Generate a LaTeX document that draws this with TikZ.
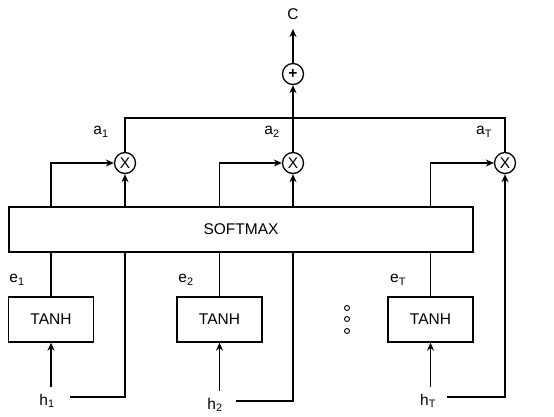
\documentclass[tikz,border=0pt]{standalone}
\usepackage{fontspec}
\setmainfont{Liberation Sans}
\usetikzlibrary{arrows.meta}
\begin{document}
\begin{tikzpicture}[x=1pt,y=-1pt,
  line width=1.3pt,
  every node/.style={font=\fontsize{15.5}{17}\selectfont, inner sep=0pt},
  boxnode/.style={draw, rectangle, minimum width=85pt, minimum height=45pt},
  opnode/.style={draw, circle, minimum size=21pt},
  dotnode/.style={draw, circle, line width=0.9pt, minimum size=5pt},
  arr/.style={-{Stealth[length=8pt,width=7pt]}}
]
\useasboundingbox (0,0) rectangle (554,416);
% boxes
\node[draw, rectangle, minimum width=464pt, minimum height=45pt] (soft) at (241,229.5) {SOFTMAX};
\node[boxnode] (t1) at (51,319.5) {TANH};
\node[boxnode] (t2) at (219.5,319.5) {TANH};
\node[boxnode] (tT) at (430.5,319.5) {TANH};
% operators
\node[opnode] (x1) at (125,163) {X};
\node[opnode] (x2) at (293,163) {X};
\node[opnode] (xT) at (505,163) {X};
\node[opnode] (plus) at (293,74) {\textbf{+}};
\node (C) at (293,14) {C};
% labels
\node (a1) at (101,132) {a\textsubscript{1}};
\node (a2) at (272,132) {a\textsubscript{2}};
\node (aT) at (484,132) {a\textsubscript{T}};
\node (e1) at (17,280) {e\textsubscript{1}};
\node (e2) at (186,280) {e\textsubscript{2}};
\node (eT) at (398,280) {e\textsubscript{T}};
\node (h1) at (47,401) {h\textsubscript{1}};
\node (h2) at (215,405) {h\textsubscript{2}};
\node (hT) at (428,401) {h\textsubscript{T}};
% dots
\node[dotnode] (d1) at (347,308) {};
\node[dotnode] (d2) at (347,319) {};
\node[dotnode] (d3) at (347,331) {};
% coordinates
\coordinate (h1r) at (70,397);
\coordinate (h2r) at (236,401);
\coordinate (hTr) at (447,397);
\coordinate (top) at (0,118);
% inputs to tanh
\draw[arr] (t1.south |- 0,387) -- (t1.south);
\draw[arr] (t2.south |- 0,391) -- (t2.south);
\draw[arr] (tT.south |- 0,387) -- (tT.south);
% tanh to softmax
\draw (t1.north) -- (t1.north |- soft.south);
\draw (t2.north) -- (t2.north |- soft.south);
\draw (tT.north) -- (tT.north |- soft.south);
% h to softmax
\draw (h1r) -| (x1.south |- soft.south);
\draw (h2r) -| (x2.south |- soft.south);
% softmax up to multipliers
\draw[arr] (t1.north |- soft.north) |- (x1.west);
\draw[arr] (t2.north |- soft.north) |- (x2.west);
\draw[arr] (tT.north |- soft.north) |- (xT.west);
\draw[arr] (x1.south |- soft.north) -- (x1.south);
\draw[arr] (x2.south |- soft.north) -- (x2.south);
\draw[arr] (hTr) -| (xT.south);
% sum
\draw (x1.north) -- (x1.north |- top) -- (xT.north |- top) -- (xT.north);
\draw[arr] (x2.north) -- (plus.south);
\draw[arr] (plus.north) -- (C.south |- 0,29);
\end{tikzpicture}
\end{document}
